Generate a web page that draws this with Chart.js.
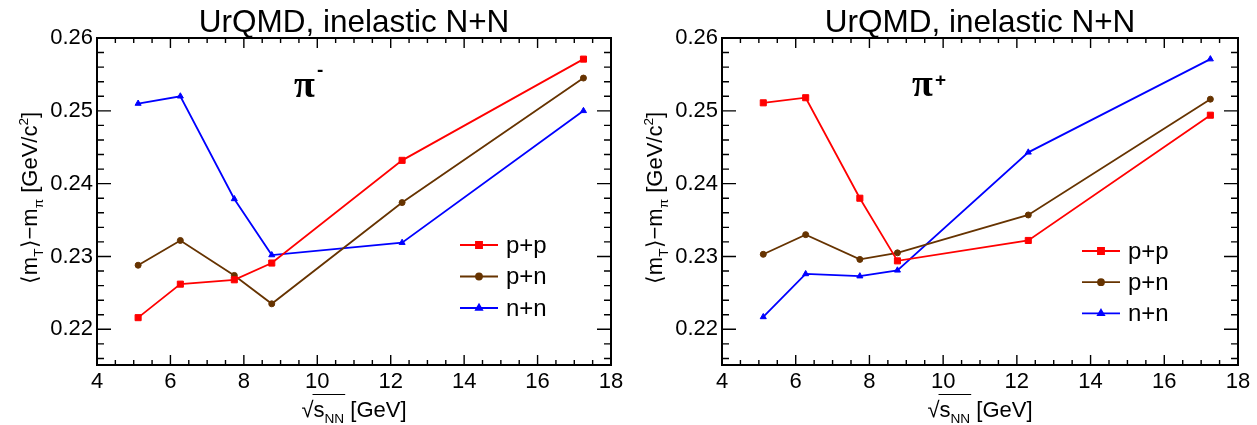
<!DOCTYPE html>
<html>
<head>
<meta charset="utf-8">
<title>UrQMD mT - m_pi</title>
<script src="https://cdn.jsdelivr.net/npm/chart.js@4.4.1/dist/chart.umd.min.js"></script>
<style>
  html, body { margin: 0; padding: 0; background: #fff; }
  #wrap { position: relative; width: 1257px; height: 425px; overflow: hidden; }
  #wrap canvas { position: absolute; top: 0; }
</style>
</head>
<body>
<div id="wrap">
  <canvas id="piMinus" width="628" height="425" style="left:0"></canvas>
  <canvas id="piPlus" width="629" height="425" style="left:628px"></canvas>
</div>
<script>
// sqrt(s_NN) of the simulated energies
const energies = [5.12, 6.27, 7.74, 8.76, 12.31, 17.25];

// <mT> - m_pi for pi-  [GeV/c^2]
const ppMinus = [0.2216, 0.2262, 0.2268, 0.2291, 0.2432, 0.2571];
const pnMinus = [0.2288, 0.2322, 0.2274, 0.2235, 0.2374, 0.2545];
const nnMinus = [0.2510, 0.2520, 0.2379, 0.2302, 0.2319, 0.2500];

// <mT> - m_pi for pi+  [GeV/c^2]
const ppPlus = [0.2511, 0.2518, 0.2380, 0.2294, 0.2322, 0.2494];
const pnPlus = [0.2303, 0.2330, 0.2296, 0.2305, 0.2357, 0.2516];
const nnPlus = [0.2217, 0.2276, 0.2273, 0.2281, 0.2443, 0.2571];

const systems = ['p+p', 'p+n', 'n+n'];
const xTicks = [4, 6, 8, 10, 12, 14, 16, 18];
const yTicks = [0.22, 0.23, 0.24, 0.25, 0.26];

const SANS = '"Liberation Sans", Arial, Helvetica, sans-serif';
const SERIF = '"Liberation Serif", "Times New Roman", serif';

const styles = [
  { color: '#ff0000', pointStyle: 'rect', radius: 4.3 },
  { color: '#663300', pointStyle: 'circle', radius: 3 },
  { color: '#0000ff', pointStyle: 'triangle', radius: 3.5 },
];

function makeDatasets(series) {
  return series.map((values, i) => ({
    label: systems[i],
    data: energies.map((e, j) => ({ x: e, y: values[j] })),
    borderColor: styles[i].color,
    backgroundColor: styles[i].color,
    pointBackgroundColor: styles[i].color,
    pointBorderColor: styles[i].color,
    pointStyle: styles[i].pointStyle,
    pointRadius: styles[i].radius,
    pointBorderWidth: 1,
    borderWidth: 1.8,
    tension: 0,
    fill: false,
  }));
}

// text with sub/superscripts, drawn left to right from x at baseline y
function richWidth(ctx, parts, size) {
  let w = 0;
  for (const p of parts) {
    ctx.font = (p.k ? size * 0.62 : size) + 'px ' + SANS;
    w += ctx.measureText(p.t).width;
  }
  return w;
}
function drawRich(ctx, parts, size, x, y) {
  for (const p of parts) {
    const s = p.k ? size * 0.62 : size;
    ctx.font = s + 'px ' + SANS;
    const dy = p.k === 'sub' ? size * 0.28 : p.k === 'sup' ? -size * 0.42 : 0;
    ctx.fillText(p.t, x, y + dy);
    x += ctx.measureText(p.t).width;
  }
  return x;
}

// box frame with inward ticks on all four sides
const frame = {
  id: 'frame',
  afterDraw(chart) {
    const { ctx, chartArea: a } = chart;
    const xs = chart.scales.x, ys = chart.scales.y;
    ctx.save();
    ctx.strokeStyle = '#000';
    ctx.lineWidth = 1.4;
    ctx.beginPath();
    for (let k = Math.ceil(xs.min / 0.5 - 1e-9); k * 0.5 <= xs.max + 1e-9; k++) {
      const px = xs.getPixelForValue(k * 0.5);
      const len = k % 4 === 0 ? 10 : 5;
      ctx.moveTo(px, a.bottom); ctx.lineTo(px, a.bottom - len);
      ctx.moveTo(px, a.top); ctx.lineTo(px, a.top + len);
    }
    for (let k = Math.ceil(ys.min / 0.002 - 1e-6); k * 0.002 <= ys.max + 1e-9; k++) {
      const py = ys.getPixelForValue(k * 0.002);
      const len = k % 5 === 0 ? 14 : 7;
      ctx.moveTo(a.left, py); ctx.lineTo(a.left + len, py);
      ctx.moveTo(a.right, py); ctx.lineTo(a.right - len, py);
    }
    ctx.stroke();
    ctx.lineWidth = 2;
    ctx.strokeRect(a.left, a.top, a.right - a.left, a.bottom - a.top);
    ctx.restore();
  }
};

// line + marker key inside the plot
const seriesKey = {
  id: 'seriesKey',
  afterDraw(chart, args, opts) {
    const { ctx } = chart;
    ctx.save();
    chart.data.datasets.forEach((ds, i) => {
      const y = opts.y + i * opts.gap;
      ctx.strokeStyle = ds.borderColor;
      ctx.fillStyle = ds.borderColor;
      ctx.lineWidth = ds.borderWidth;
      ctx.beginPath();
      ctx.moveTo(opts.x, y);
      ctx.lineTo(opts.x + 38, y);
      ctx.stroke();
      Chart.helpers.drawPoint(ctx, {
        pointStyle: ds.pointStyle, radius: ds.pointRadius, rotation: 0, borderWidth: 1
      }, opts.x + 19, y);
      ctx.fillStyle = '#000';
      ctx.font = '24px ' + SANS;
      ctx.textBaseline = 'middle';
      ctx.textAlign = 'left';
      ctx.fillText(ds.label, opts.x + 46, y + 1);
    });
    ctx.restore();
  }
};

// panel title, pion label and axis titles
const panelText = {
  id: 'panelText',
  afterDraw(chart, args, opts) {
    const { ctx, chartArea: a } = chart;
    ctx.save();
    ctx.fillStyle = '#000';
    ctx.textBaseline = 'alphabetic';

    ctx.font = '31.5px ' + SANS;
    ctx.textAlign = 'center';
    ctx.fillText(opts.title, (a.left + a.right) / 2, 32);

    ctx.textAlign = 'left';
    ctx.font = 'bold 38px ' + SERIF;
    ctx.fillText('π', opts.pion[0], opts.pion[1]);
    ctx.font = 'bold 19px ' + SANS;
    ctx.fillText(opts.charge, opts.charge_at[0], opts.charge_at[1]);

    // x title: sqrt(s_NN) [GeV]
    const fs = 22;
    ctx.font = fs + 'px ' + SANS;
    const root = '√';
    const rootW = ctx.measureText(root).width;
    const sParts = [{ t: 's' }, { t: 'NN', k: 'sub' }];
    const sW = richWidth(ctx, sParts, fs);
    ctx.font = fs + 'px ' + SANS;
    const tail = ' [GeV]';
    const tailW = ctx.measureText(tail).width;
    const total = rootW + sW + tailW;
    let x0 = (a.left + a.right) / 2 - total / 2;
    const yb = 417;
    ctx.font = fs + 'px ' + SANS;
    ctx.fillText(root, x0, yb);
    const xs0 = x0 + rootW;
    const xe = drawRich(ctx, sParts, fs, xs0, yb);
    ctx.lineWidth = 1;
    ctx.strokeStyle = '#000';
    ctx.beginPath();
    ctx.moveTo(xs0 - 1, yb - 22.5);
    ctx.lineTo(xe + 1, yb - 22.5);
    ctx.stroke();
    ctx.font = fs + 'px ' + SANS;
    ctx.fillText(tail, xe, yb);

    // y title: <mT> - m_pi [GeV/c^2]
    const yParts = [
      { t: '⟨m' }, { t: 'T', k: 'sub' }, { t: '⟩−m' }, { t: 'π', k: 'sub' },
      { t: ' [GeV/c' }, { t: '2', k: 'sup' }, { t: ']' }
    ];
    const yW = richWidth(ctx, yParts, fs);
    ctx.translate(a.left - 60, 198);
    ctx.rotate(-Math.PI / 2);
    drawRich(ctx, yParts, fs, -yW / 2, 0);
    ctx.restore();
  }
};

function makeChart(id, series, yAxisWidth, rightPad, text, key) {
  return new Chart(document.getElementById(id), {
    type: 'line',
    data: { datasets: makeDatasets(series) },
    options: {
      responsive: false,
      animation: false,
      devicePixelRatio: 1,
      events: [],
      layout: { padding: { left: 0, top: 38, right: rightPad, bottom: 0 } },
      scales: {
        x: {
          type: 'linear',
          min: 4,
          max: 18,
          grid: { display: false, drawTicks: false },
          border: { display: false },
          afterBuildTicks: (s) => { s.ticks = xTicks.map(v => ({ value: v })); },
          afterFit: (s) => { s.height = 60; },
          ticks: {
            autoSkip: false,
            maxRotation: 0,
            padding: 4,
            color: '#000',
            font: { family: SANS, size: 22 },
            callback: (v) => String(v),
          },
        },
        y: {
          type: 'linear',
          min: 0.2151,
          max: 0.26,
          grid: { display: false, drawTicks: false },
          border: { display: false },
          afterBuildTicks: (s) => { s.ticks = yTicks.map(v => ({ value: v })); },
          afterFit: (s) => { s.width = yAxisWidth; },
          ticks: {
            autoSkip: false,
            padding: 4,
            color: '#000',
            font: { family: SANS, size: 22 },
            callback: (v) => Number(v).toFixed(2),
          },
        },
      },
      plugins: {
        legend: { display: false },
        tooltip: { enabled: false },
        panelText: text,
        seriesKey: key,
      },
    },
    plugins: [frame, seriesKey, panelText],
  });
}

makeChart('piMinus', [ppMinus, pnMinus, nnMinus], 97, 17,
  { title: 'UrQMD, inelastic N+N', pion: [294, 97], charge: '-', charge_at: [317, 76] },
  { x: 460, y: 245, gap: 31.5 });

makeChart('piPlus', [ppPlus, pnPlus, nnPlus], 94, 19,
  { title: 'UrQMD, inelastic N+N', pion: [284, 96], charge: '+', charge_at: [307, 86] },
  { x: 454, y: 251, gap: 31.2 });
</script>
</body>
</html>
